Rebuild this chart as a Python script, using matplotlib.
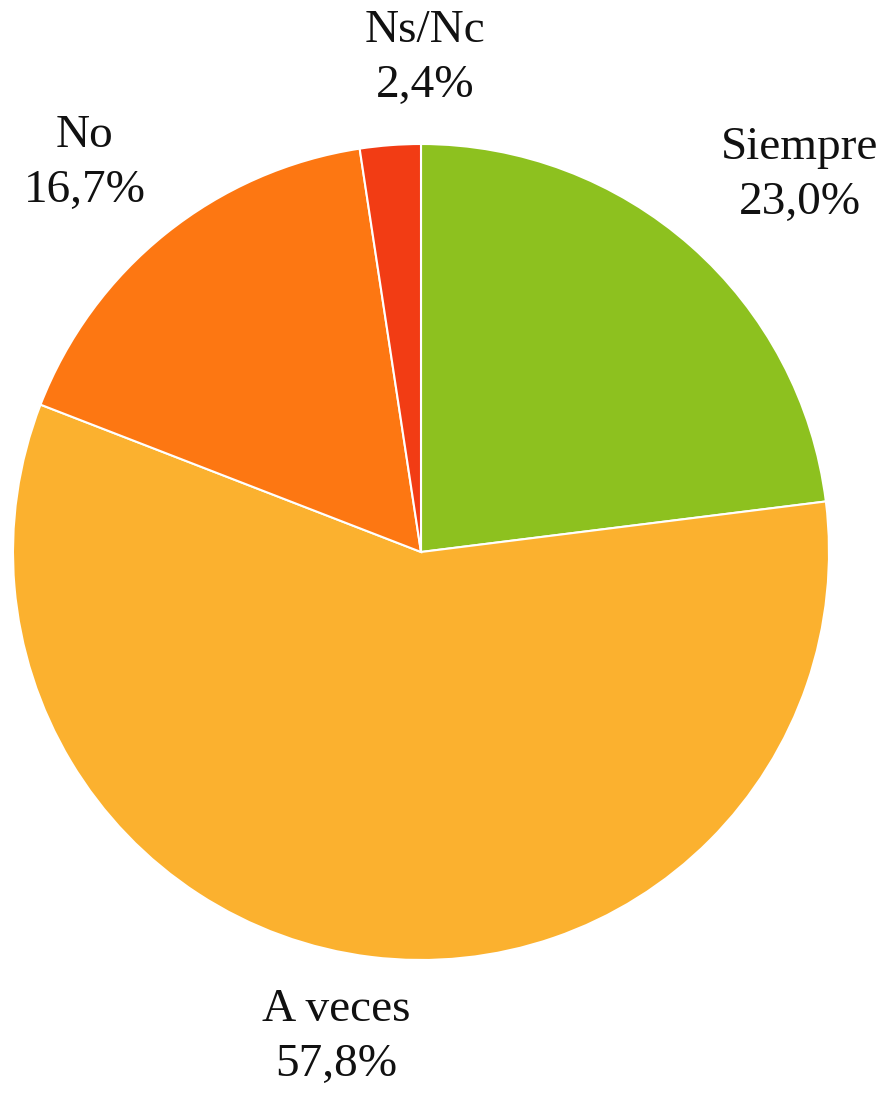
import numpy as np
import matplotlib
matplotlib.use("Agg")
import matplotlib.pyplot as plt

categories = ["Siempre", "A veces", "No", "Ns/Nc"]
values = [23.0, 57.8, 16.7, 2.4]
colors = ["#8DC11F", "#FBB12F", "#FD7712", "#F23C14"]
# label centres, in units of the pie radius (layout only)
label_xy = [(0.929, 0.924), (-0.208, -1.189), (-0.824, 0.953), (0.010, 1.211)]

W, H = 892, 1094
fig = plt.figure(figsize=(W / 100, H / 100), dpi=100)
cx, cy, r = 421, 552, 408
ax = fig.add_axes([(cx - r) / W, (H - cy - r) / H, 2 * r / W, 2 * r / H])

labels = [f"{c}\n{v:.1f}%".replace(".", ",") for c, v in zip(categories, values)]
wedges, texts = ax.pie(values, colors=colors, startangle=90, counterclock=False,
                       radius=1, labels=labels, labeldistance=1.25,
                       wedgeprops=dict(edgecolor="white", linewidth=1.5),
                       textprops=dict(fontsize=34, family="Liberation Serif",
                                      color="#111111", linespacing=1.38))
for t, (lx, ly) in zip(texts, label_xy):
    t.set_position((lx, ly))
    t.set_ha("center")
    t.set_va("center")
    t.set_clip_on(False)

ax.set_xlim(-1, 1)
ax.set_ylim(-1, 1)
ax.set_aspect("equal")
ax.axis("off")

fig.savefig("out.png", dpi=100)
